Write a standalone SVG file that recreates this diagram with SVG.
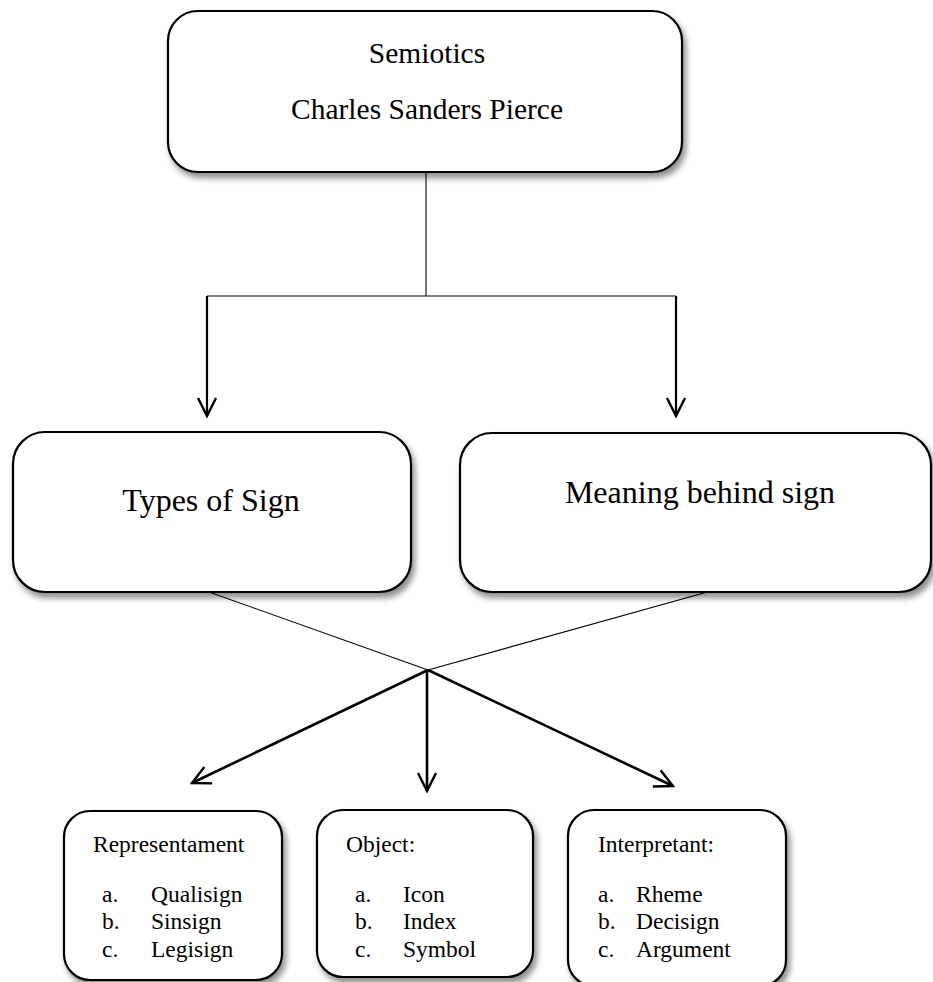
<svg xmlns="http://www.w3.org/2000/svg" width="933" height="982" viewBox="0 0 933 982">
<style>
.box{fill:#fff;stroke:#000;stroke-width:2.2;filter:url(#sh)}
.t{font-family:"Liberation Serif","Times New Roman",serif;fill:#000}
.thin{stroke:#000;stroke-width:1.1;fill:none}
.arr{stroke:#000;stroke-width:2.2;fill:none;marker-end:url(#ah)}
.arr2{stroke:#000;stroke-width:2.6;fill:none;marker-end:url(#ah)}
</style>
<defs>
<filter id="sh" x="-10%" y="-10%" width="125%" height="130%">
<feDropShadow dx="3" dy="5" stdDeviation="3" flood-color="#000" flood-opacity="0.45"/>
</filter>
<marker id="ah" viewBox="0 0 22 22" refX="20" refY="11" markerWidth="22" markerHeight="22" markerUnits="userSpaceOnUse" orient="auto">
<path d="M2,2 L20,11 L2,20" fill="none" stroke="#000" stroke-width="2.4" stroke-linejoin="miter"/>
</marker>
</defs>
<g id="connectors">
<line class="thin" x1="426" y1="172" x2="426" y2="296"/>
<line class="thin" x1="207" y1="296" x2="676" y2="296"/>
<line class="arr" x1="207" y1="296" x2="207" y2="416"/>
<line class="arr" x1="676" y1="296" x2="676" y2="416"/>
<line class="thin" x1="209" y1="592" x2="428" y2="670"/>
<line class="thin" x1="711" y1="591" x2="428" y2="670"/>
<line class="arr2" x1="428" y1="670" x2="192" y2="783"/>
<line class="arr2" x1="427" y1="670" x2="427" y2="791"/>
<line class="arr2" x1="428" y1="670" x2="673" y2="786"/>
</g>
<g id="semiotics">
<rect class="box" x="168" y="11" width="514" height="161" rx="30"/>
<text class="t" x="427" y="63" font-size="29.5" text-anchor="middle">Semiotics</text>
<text class="t" x="427" y="119" font-size="29.5" text-anchor="middle">Charles Sanders Pierce</text>
</g>
<g id="types">
<rect class="box" x="13" y="432" width="398" height="160" rx="32"/>
<text class="t" x="211" y="511" font-size="32" text-anchor="middle">Types of Sign</text>
</g>
<g id="meaning">
<rect class="box" x="460" y="433" width="471" height="159" rx="32"/>
<text class="t" x="700" y="503" font-size="32" text-anchor="middle">Meaning behind sign</text>
</g>
<g id="representament">
<rect class="box" x="64" y="811" width="218" height="169" rx="26"/>
<text class="t" x="93" y="852" font-size="23.5">Representament</text>
<text class="t" x="102" y="902" font-size="23.5">a.</text>
<text class="t" x="151" y="902" font-size="23.5">Qualisign</text>
<text class="t" x="102" y="929" font-size="23.5">b.</text>
<text class="t" x="151" y="929" font-size="23.5">Sinsign</text>
<text class="t" x="102" y="957" font-size="23.5">c.</text>
<text class="t" x="151" y="957" font-size="23.5">Legisign</text>
</g>
<g id="object">
<rect class="box" x="317" y="810" width="216" height="167" rx="26"/>
<text class="t" x="346" y="852" font-size="23.5">Object:</text>
<text class="t" x="355" y="902" font-size="23.5">a.</text>
<text class="t" x="403" y="902" font-size="23.5">Icon</text>
<text class="t" x="355" y="929" font-size="23.5">b.</text>
<text class="t" x="403" y="929" font-size="23.5">Index</text>
<text class="t" x="355" y="957" font-size="23.5">c.</text>
<text class="t" x="403" y="957" font-size="23.5">Symbol</text>
</g>
<g id="interpretant">
<rect class="box" x="568" y="810" width="218" height="176" rx="26"/>
<text class="t" x="598" y="852" font-size="23.5">Interpretant:</text>
<text class="t" x="598" y="902" font-size="23.5">a.</text>
<text class="t" x="636" y="902" font-size="23.5">Rheme</text>
<text class="t" x="598" y="929" font-size="23.5">b.</text>
<text class="t" x="636" y="929" font-size="23.5">Decisign</text>
<text class="t" x="598" y="957" font-size="23.5">c.</text>
<text class="t" x="636" y="957" font-size="23.5">Argument</text>
</g>
</svg>
